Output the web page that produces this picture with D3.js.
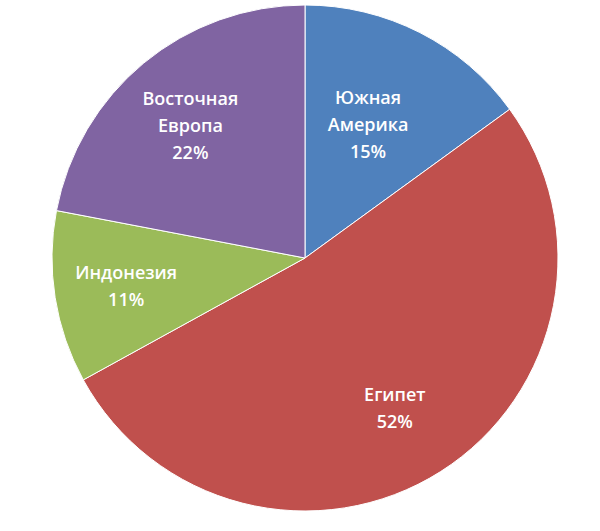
<!DOCTYPE html>
<html><head><meta charset="utf-8">
<script src="https://cdn.jsdelivr.net/npm/d3@7"></script>
<style>html,body{margin:0;padding:0;background:#fff;}svg{display:block;}</style>
</head><body>
<script>
const categories = ["Южная Америка", "Египет", "Индонезия", "Восточная Европа"];
const labelLines = [["Южная", "Америка"], ["Египет"], ["Индонезия"], ["Восточная", "Европа"]];
const values = [15, 52, 11, 22];
const colors = ["#4F81BD", "#C0504D", "#9BBB59", "#8064A2"];
const labelRadius = [150, 177, 176, 172];

const W = 600, H = 531;
const cx = 305, cy = 258, R = 253;
const svg = d3.select("body").append("svg").attr("width", W).attr("height", H);
const g = svg.append("g").attr("transform", `translate(${cx},${cy})`);
const data = categories.map((c, i) => ({name: c, value: values[i], i}));
const pie = d3.pie().value(d => d.value).sort(null);
const arc = d3.arc().innerRadius(0).outerRadius(R);
const arcs = pie(data);
const total = d3.sum(values);

g.selectAll("path").data(arcs).join("path")
  .attr("d", arc)
  .attr("fill", d => colors[d.data.i])
  .attr("stroke", "#fff").attr("stroke-width", 1);

const lh = 27;
arcs.forEach(d => {
  const la = d3.arc().innerRadius(labelRadius[d.data.i]).outerRadius(labelRadius[d.data.i]);
  const [x, y] = la.centroid(d);
  const lines = labelLines[d.data.i].concat([Math.round(d.data.value / total * 100) + "%"]);
  const n = lines.length;
  const t = g.append("text")
    .attr("text-anchor", "middle")
    .attr("font-family", "'Open Sans', sans-serif")
    .attr("font-weight", 600)
    .attr("font-size", 18)
    .attr("fill", "#fff");
  lines.forEach((l, k) => {
    t.append("tspan").attr("x", x - 5).attr("y", y + (k - (n - 1) / 2) * lh + 7).text(l);
  });
});
</script>
</body></html>
